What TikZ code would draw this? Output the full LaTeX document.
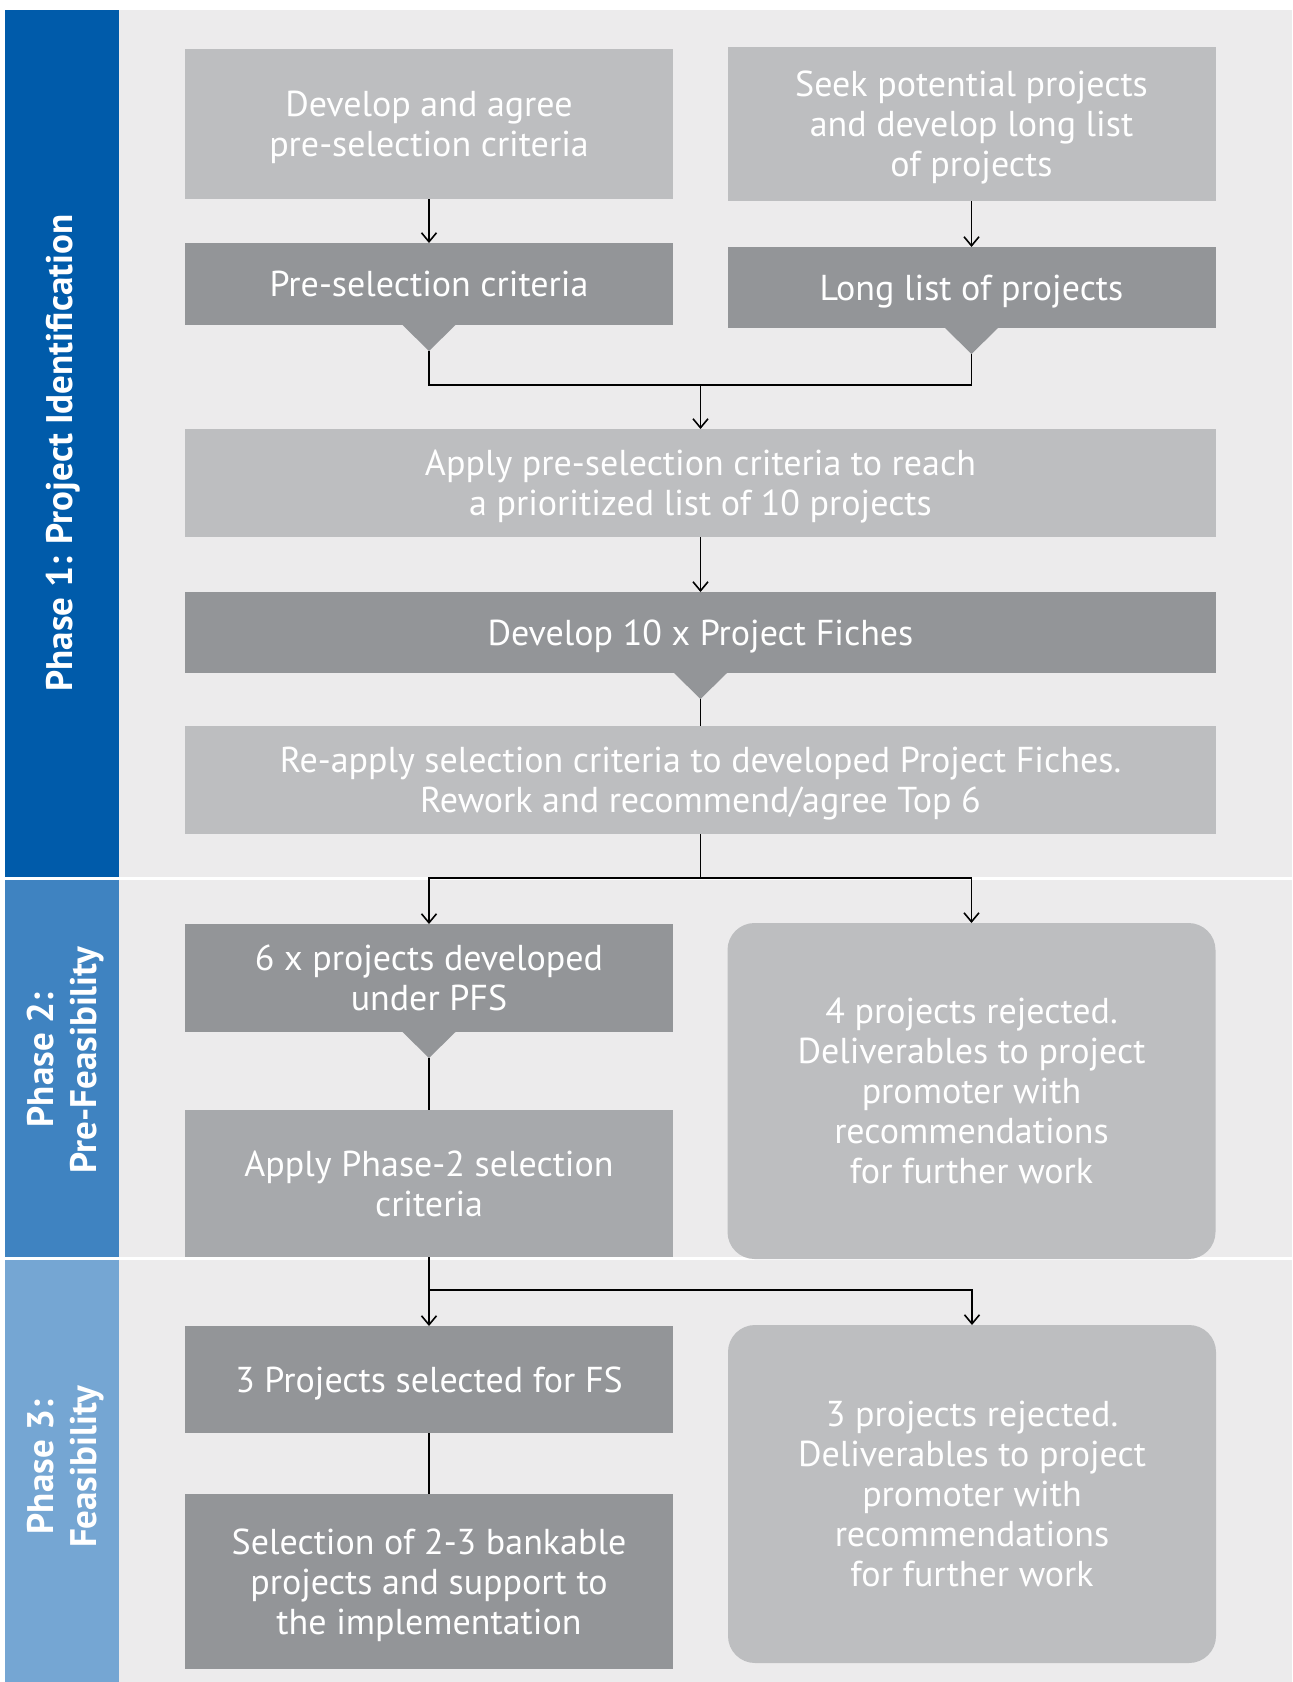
\documentclass[tikz,border=0pt]{standalone}
\usepackage{fontspec}
\newfontfamily\boxfont{PT Sans}
\usetikzlibrary{calc,arrows.meta}

\definecolor{phaseone}{RGB}{0,91,170}
\definecolor{phasetwo}{RGB}{63,131,193}
\definecolor{phasethree}{RGB}{117,166,211}
\definecolor{panel}{RGB}{236,235,236}
\definecolor{boxlight}{RGB}{189,190,192}
\definecolor{boxdark}{RGB}{147,149,152}
\definecolor{boxmid}{RGB}{167,169,172}

\tikzset{
  box/.style={inner sep=0pt, outer sep=0pt, align=center, text=white,
    text depth=0pt, font=\boxfont\fontsize{18}{20}\selectfont},
  lightbox/.style={box, fill=boxlight},
  darkbox/.style={box, fill=boxdark},
  midbox/.style={box, fill=boxmid},
  roundbox/.style={box, fill=boxlight, rounded corners=13.5pt},
  narrow/.style={minimum width=244pt},
  wide/.style={minimum width=515.5pt},
  flow/.style={line width=0.8pt, black},
  phaselabel/.style={rotate=90, align=center, text=white,
    font=\boxfont\bfseries\fontsize{18.5}{21.5}\selectfont},
}

% pointer under a box: #1 box, #2 name of the tip
\newcommand{\pointer}[2]{%
  \fill[boxdark] ($(#1.south)+(-27,-0.5)$) -- ($(#1.south)+(27,-0.5)$)
    -- ($(#1.south)+(0,26)$) coordinate (#2) -- cycle;}

\begin{document}
\begin{tikzpicture}[x=0.5pt, y=-0.5pt, >={Straight Barb[length=4.5pt,width=7.5pt]}]
\useasboundingbox (0,0) rectangle (1292,1682);

% background and phase strips
\fill[panel] (119,10) rectangle (1292,1682);
\fill[phaseone] (5,10) rectangle (119,878);
\fill[phasetwo] (5,878) rectangle (119,1258);
\fill[phasethree] (5,1258) rectangle (119,1682);
\draw[white, line width=1.5pt] (5,878) -- (1292,878);
\draw[white, line width=1.5pt] (5,1258) -- (1292,1258);

\node[phaselabel] (labone) at (63,453) {Phase 1: Project Identification};
\node[phaselabel] (labtwo) at (66,1060) {Phase 2:\\Pre-Feasibility};
\node[phaselabel] (labthree) at (66,1467) {Phase 3:\\Feasibility};

% phase 1
\node[lightbox, narrow, minimum height=75pt] (devcrit) at (429,124)
  {Develop and agree\\pre-selection criteria};
\node[darkbox, narrow, minimum height=41pt] (precrit) at (429,284)
  {Pre-selection criteria};
\node[lightbox, narrow, minimum height=77pt] (seek) at (971.5,124)
  {Seek potential projects\\and develop long list\\of projects};
\node[darkbox, narrow, minimum height=40.5pt] (longlist) at (971.5,287.5)
  {Long list of projects};
\node[lightbox, wide, minimum height=54pt] (apply) at (700.5,483)
  {Apply pre-selection criteria to reach\\a prioritized list of 10 projects};
\node[darkbox, wide, minimum height=40.5pt] (fiches) at (700.5,632.5)
  {Develop 10 x Project Fiches};
\node[lightbox, wide, minimum height=54pt] (reapply) at (700.5,780)
  {Re-apply selection criteria to developed Project Fiches.\\Rework and recommend/agree Top 6};
\pointer{precrit}{pretip}
\pointer{longlist}{listtip}
\pointer{fiches}{fichestip}

% phase 2
\node[darkbox, narrow, minimum height=54pt] (sixpfs) at (429,978)
  {6 x projects developed\\under PFS};
\node[midbox, narrow, minimum height=73.5pt] (phasecrit) at (429,1183.5)
  {Apply Phase-2 selection\\criteria};
\node[roundbox, narrow, minimum height=168pt] (rejfour) at (971.5,1091)
  {4 projects rejected.\\Deliverables to project\\promoter with\\recommendations\\for further work};
\pointer{sixpfs}{sixtip}

% phase 3
\node[darkbox, narrow, minimum height=53.5pt] (threefs) at (429,1379.5)
  {3 Projects selected for FS};
\node[darkbox, narrow, minimum height=87.5pt] (bankable) at (429,1581.5)
  {Selection of 2-3 bankable\\projects and support to\\the implementation};
\node[roundbox, narrow, minimum height=169pt] (rejthree) at (972,1494)
  {3 projects rejected.\\Deliverables to project\\promoter with\\recommendations\\for further work};

% connectors
\coordinate (merge) at (700.5,385);
\coordinate (splitone) at (700.5,878);
\coordinate (splittwo) at (429,1290);
\draw[flow,->] (devcrit) -- (precrit);
\draw[flow,->] (seek) -- (longlist);
\draw[flow] (pretip) |- (merge) -| (listtip);
\draw[flow,->] (merge) -- (apply);
\draw[flow,->] (apply) -- (fiches);
\draw[flow] (fichestip) -- (reapply);
\draw[flow] (reapply) -- (splitone);
\draw[flow,->] (splitone) -| (sixpfs);
\draw[flow,->] (splitone) -| (rejfour);
\draw[flow] (sixtip) -- (phasecrit);
\draw[flow,->] (phasecrit) -- (threefs);
\draw[flow,->] (splittwo) -| (rejthree);
\draw[flow] (threefs) -- (bankable);
\end{tikzpicture}
\end{document}
